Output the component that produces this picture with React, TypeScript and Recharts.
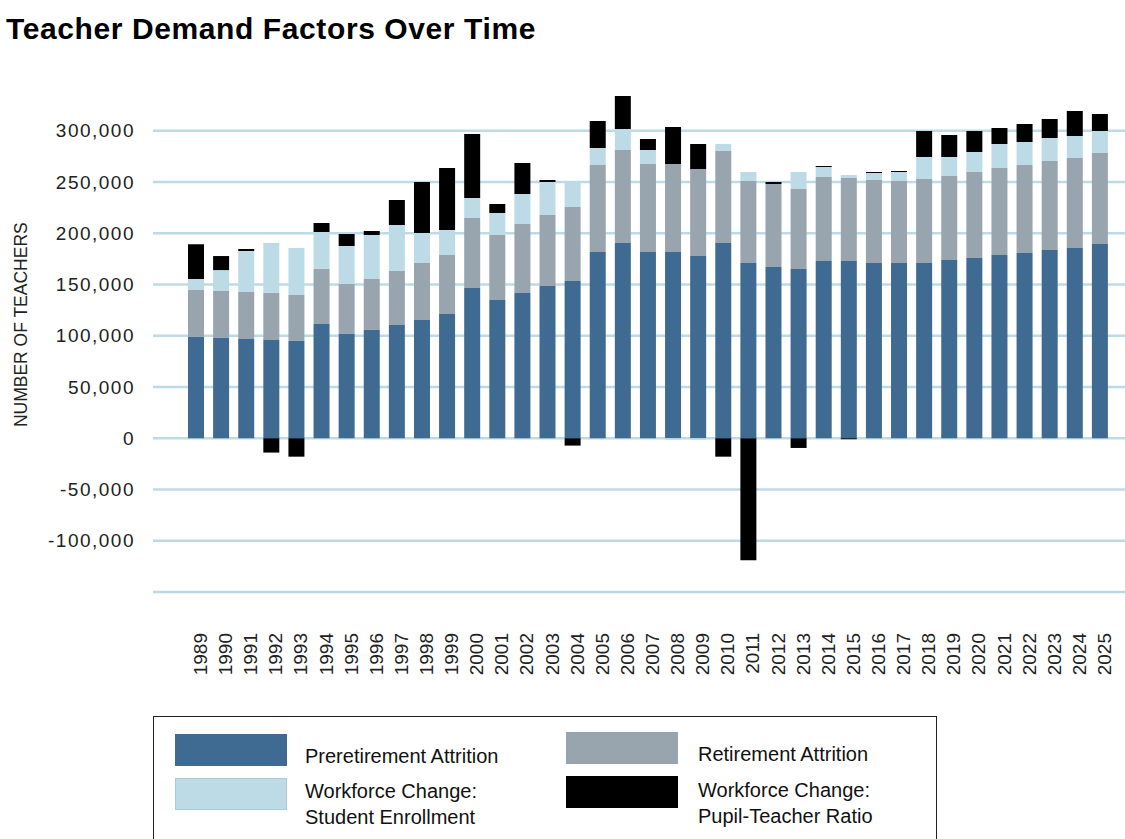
import { Bar, BarChart, CartesianGrid, XAxis, YAxis } from "recharts";

const years = [
  "1989", "1990", "1991", "1992", "1993", "1994", "1995", "1996", "1997", "1998",
  "1999", "2000", "2001", "2002", "2003", "2004", "2005", "2006", "2007", "2008",
  "2009", "2010", "2011", "2012", "2013", "2014", "2015", "2016", "2017", "2018",
  "2019", "2020", "2021", "2022", "2023", "2024", "2025",
];

const preretirement = [
  98800, 97800, 96800, 95800, 94900, 111400, 101700, 105600, 110500, 115300,
  121200, 146500, 134800, 141700, 148500, 153400, 181600, 190400, 181600, 181600,
  177700, 190400, 170900, 167000, 165100, 172900, 172900, 170900, 170900, 170900,
  173800, 175800, 178700, 180700, 183600, 185500, 189400,
];

const retirement = [
  45800, 45800, 45800, 45900, 44800, 53700, 48700, 49700, 52600, 55600,
  57500, 68300, 63400, 67200, 69200, 72100, 84900, 90700, 85800, 85800,
  84900, 89700, 80000, 80900, 78000, 81900, 80900, 80900, 80000, 81900,
  81900, 83800, 84800, 85800, 86800, 87800, 88800,
];

const enrollment = [
  10700, 20400, 40000, 48700, 45800, 36000, 37100, 42900, 44900, 29300,
  24400, 19500, 21500, 29300, 32200, 24400, 16500, 20500, 13700, -1500,
  -1500, 6800, 8700, 0, 16500, 9700, 2900, 6900, 8700, 21500,
  18600, 19500, 23400, 22400, 22400, 21400, 21400,
];

const pupilTeacher = [
  34000, 13700, 2000, -14000, -18000, 8800, 11700, 3900, 24300, 49700,
  60400, 62400, 8700, 30200, 1900, -7200, 26400, 32100, 10700, 36100,
  24300, -18000, -119000, 2000, -9500, 1000, -1000, 1000, 1000, 25300,
  21400, 20500, 15600, 17500, 18500, 24400, 16600,
];

const yTicks = [-150000, -100000, -50000, 0, 50000, 100000, 150000, 200000, 250000, 300000];

const series = [
  { key: "pre", name: "Preretirement Attrition", color: "#3f6a91" },
  { key: "ret", name: "Retirement Attrition", color: "#98a4ae" },
  { key: "enr", name: "Workforce Change:\nStudent Enrollment", color: "#bddbe6" },
  { key: "ptr", name: "Workforce Change:\nPupil-Teacher Ratio", color: "#000000" },
];

const data = years.map((year, i) => ({
  year,
  pre: preretirement[i],
  ret: retirement[i],
  enr: enrollment[i],
  ptr: pupilTeacher[i],
}));

const FONT = "'Liberation Sans', Arial, sans-serif";

function YearTick(props: any) {
  const { x, y, payload } = props;
  return (
    <g transform={`translate(${x},${y + 33}) rotate(-90)`}>
      <text x={0} y={0} dy={11.5} textAnchor="end" fontSize={19} fill="#222" fontFamily={FONT}>
        {payload.value}
      </text>
    </g>
  );
}

function AxisTitle(props: any) {
  const vb = props.viewBox || {};
  const cx = 27;
  const cy = (vb.y ?? 0) + (vb.height ?? 0) / 2 - 11;
  return (
    <text
      x={cx}
      y={cy}
      transform={`rotate(-90, ${cx}, ${cy})`}
      textAnchor="middle"
      fontSize={17.5}
      fill="#222"
      fontFamily={FONT}
    >
      NUMBER OF TEACHERS
    </text>
  );
}

// legend placement: two columns, two rows
const legendPos = [
  { sx: 175, sy: 734, tx: 305, ty: 743 },
  { sx: 566, sy: 732, tx: 698, ty: 741 },
  { sx: 175, sy: 778, tx: 305, ty: 778 },
  { sx: 566, sy: 776, tx: 698, ty: 777 },
];

export default function App() {
  return (
    <div
      style={{
        position: "absolute",
        left: 0,
        top: 0,
        width: 1125,
        height: 839,
        overflow: "hidden",
        background: "#fff",
        fontFamily: FONT,
      }}
    >
      <div
        style={{
          position: "absolute",
          left: 6,
          top: 14,
          fontSize: 30,
          lineHeight: 1,
          fontWeight: 700,
          letterSpacing: 0.6,
          color: "#000",
          whiteSpace: "nowrap",
        }}
      >
        Teacher Demand Factors Over Time
      </div>

      <div style={{ position: "absolute", left: 0, top: 0 }}>
        <BarChart
          width={1125}
          height={700}
          data={data}
          stackOffset="sign"
          barSize={16}
          margin={{ top: 79.4, right: 0, left: 0, bottom: 48 }}
        >
          <CartesianGrid
            vertical={false}
            stroke="#bddbe6"
            strokeWidth={2.5}
            horizontalValues={yTicks}
          />
          <XAxis
            dataKey="year"
            interval={0}
            height={60}
            axisLine={false}
            tickLine={false}
            padding={{ left: 30, right: 13 }}
            tick={<YearTick />}
          />
          <YAxis
            width={153}
            domain={[-150000, 350000]}
            ticks={yTicks}
            allowDataOverflow
            axisLine={false}
            tickLine={false}
            tickMargin={12}
            tick={{ fontSize: 19, fill: "#222", fontFamily: FONT, letterSpacing: 1.5 }}
            tickFormatter={(v: number) => (v === -150000 ? "" : v.toLocaleString("en-US"))}
            label={<AxisTitle />}
          />
          {series.map((s) => (
            <Bar
              key={s.key}
              dataKey={s.key}
              stackId="a"
              fill={s.color}
              isAnimationActive={false}
            />
          ))}
        </BarChart>
      </div>

      <div
        style={{
          position: "absolute",
          left: 153,
          top: 716,
          width: 784,
          height: 140,
          border: "1.5px solid #222",
          boxSizing: "border-box",
        }}
      />
      {series.map((s, i) => {
        const p = legendPos[i];
        return (
          <div key={s.key}>
            <div
              style={{
                position: "absolute",
                left: p.sx,
                top: p.sy,
                width: 112,
                height: 32,
                background: s.color,
                boxSizing: "border-box",
                border: s.key === "enr" ? "1px solid #a9cbd7" : "none",
              }}
            />
            <div
              style={{
                position: "absolute",
                left: p.tx,
                top: p.ty,
                fontSize: 20,
                lineHeight: "26px",
                color: "#111",
                whiteSpace: "pre",
              }}
            >
              {s.name}
            </div>
          </div>
        );
      })}
    </div>
  );
}
